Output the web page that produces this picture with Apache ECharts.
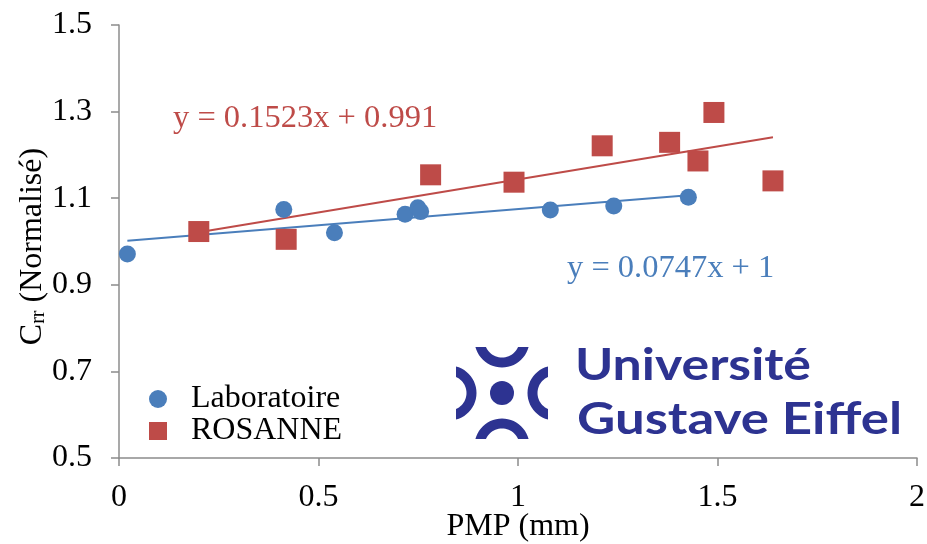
<!DOCTYPE html>
<html><head><meta charset="utf-8">
<script src="https://cdn.jsdelivr.net/npm/echarts@6/dist/echarts.min.js"></script>
<style>html,body{margin:0;padding:0;background:#fff}#c{width:927px;height:544px}</style>
</head><body><div id="c"></div>
<script>
// ---- data ----
const xTicks = [0, 0.5, 1, 1.5, 2];
const yTicks = [0.5, 0.7, 0.9, 1.1, 1.3, 1.5];
const seriesNames = ['Laboratoire', 'ROSANNE'];
const laboX = [0.021, 0.413, 0.540, 0.717, 0.749, 0.756, 1.081, 1.240, 1.427];
const laboY = [0.971, 1.074, 1.020, 1.063, 1.078, 1.069, 1.073, 1.082, 1.102];
const rosX  = [0.200, 0.419, 0.781, 0.990, 1.211, 1.380, 1.451, 1.491, 1.639];
const rosY  = [1.023, 1.005, 1.154, 1.137, 1.221, 1.229, 1.186, 1.298, 1.140];
const laboTrendX = [0.021, 1.427];
const laboTrendY = [1.0016, 1.1066];
const rosTrendX = [0.200, 1.639];
const rosTrendY = [1.0215, 1.2406];
const laboEq = 'y = 0.0747x + 1';
const rosEq = 'y = 0.1523x + 0.991';
const xTitle = 'PMP (mm)';
const logoLine1 = 'Université';
const logoLine2 = 'Gustave Eiffel';

// ---- styles ----
const blue = '#4A7EBB', red = '#BE4B48', axisGrey = '#8C8C8C', logoBlue = '#2D3391';
const serif = '"Liberation Serif","Times New Roman",serif';
const zip = (a, b) => a.map((v, i) => [v, b[i]]);
const step = a => Math.round((a[1] - a[0]) * 1000) / 1000;

const chart = echarts.init(document.getElementById('c'), null, {renderer: 'canvas'});

// logo pieces
const S = [502, 393], D = 53, cutD = 7, Ro = 27.5, Ri = 17.5;
function ringPiece(ux, uy) {
  const cx = S[0] - ux * D, cy = S[1] - uy * D;
  const phi = Math.atan2(uy, ux);
  const ao = Math.acos(cutD / Ro), ai = Math.acos(cutD / Ri);
  const pts = [];
  const n = 24;
  for (let k = 0; k <= n; k++) { const t = phi - ao + 2 * ao * k / n; pts.push([cx + Ro * Math.cos(t), cy + Ro * Math.sin(t)]); }
  for (let k = 0; k <= n; k++) { const t = phi + ai - 2 * ai * k / n; pts.push([cx + Ri * Math.cos(t), cy + Ri * Math.sin(t)]); }
  return {type: 'polygon', shape: {points: pts}, style: {fill: logoBlue}, silent: true};
}
const mctx = document.createElement('canvas').getContext('2d');
function scaleFor(str, font, w) { mctx.font = font; return w / mctx.measureText(str).width; }
const logoFont = 'bold 44px Lato';
const logoTexts = [
  {s: logoLine1, x: 575, y: 366, w: 236},
  {s: logoLine2, x: 577, y: 420, w: 325}
].map(o => ({
  type: 'text', x: o.x, y: o.y, scaleX: scaleFor(o.s, logoFont, o.w), silent: true,
  style: {text: o.s, x: 0, y: 0, fill: logoBlue, fontFamily: 'Lato', fontWeight: 'bold', fontSize: 44, align: 'left', verticalAlign: 'middle'}
}));

const option = {
  animation: false,
  backgroundColor: '#fff',
  grid: {left: 119, right: 10, top: 25, bottom: 86, containLabel: false, outerBoundsMode: 'none'},
  xAxis: {
    type: 'value', min: xTicks[0], max: xTicks[xTicks.length - 1], interval: step(xTicks),
    axisLine: {show: true, lineStyle: {color: axisGrey, width: 1.5}},
    axisTick: {show: true, length: 8, lineStyle: {color: axisGrey, width: 1.5}},
    splitLine: {show: false},
    axisLabel: {fontFamily: serif, fontSize: 32, color: '#000', margin: 24, formatter: v => String(+v.toFixed(2))},
    name: xTitle, nameLocation: 'middle', nameGap: 53, nameMoveOverlap: false,
    nameTextStyle: {fontFamily: serif, fontSize: 32, color: '#000'}
  },
  yAxis: {
    type: 'value', min: yTicks[0], max: yTicks[yTicks.length - 1], interval: step(yTicks),
    axisLine: {show: true, lineStyle: {color: axisGrey, width: 1.5}},
    axisTick: {show: true, length: 8, lineStyle: {color: axisGrey, width: 1.5}},
    splitLine: {show: false},
    axisLabel: {fontFamily: serif, fontSize: 32, color: '#000', margin: 27, formatter: v => v.toFixed(1)},
    name: '{a|C}{s|rr}{a| (Normalisé)}', nameLocation: 'middle', nameGap: 70, nameMoveOverlap: false,
    nameTextStyle: {
      color: '#000', fontFamily: serif, fontSize: 32, padding: [0, 10, 0, 0],
      rich: {
        a: {fontFamily: serif, fontSize: 32, lineHeight: 32, color: '#000'},
        s: {fontFamily: serif, fontSize: 20, lineHeight: 12, verticalAlign: 'bottom', color: '#000'}
      }
    }
  },
  legend: {
    data: [{name: seriesNames[0], icon: 'circle'}, {name: seriesNames[1], icon: 'rect'}],
    orient: 'vertical', left: 144, top: 378, itemWidth: 18, itemHeight: 18, itemGap: 0,
    textStyle: {fontFamily: serif, fontSize: 32, lineHeight: 32, color: '#000', padding: [0, 0, 0, 19]},
    selectedMode: false
  },
  series: [
    {name: 'trendLabo', type: 'line', data: zip(laboTrendX, laboTrendY), showSymbol: false, symbol: 'none',
     lineStyle: {color: blue, width: 2}, z: 1, silent: true},
    {name: 'trendRos', type: 'line', data: zip(rosTrendX, rosTrendY), showSymbol: false, symbol: 'none',
     lineStyle: {color: red, width: 2}, z: 1, silent: true},
    {name: seriesNames[0], type: 'scatter', data: zip(laboX, laboY), symbol: 'circle', symbolSize: 17,
     itemStyle: {color: blue, opacity: 1}, z: 3},
    {name: seriesNames[1], type: 'scatter', data: zip(rosX, rosY), symbol: 'rect', symbolSize: 21,
     itemStyle: {color: red, opacity: 1}, z: 3}
  ],
  graphic: [
    {type: 'text', x: 173, y: 118, silent: true,
     style: {text: rosEq, fill: red, fontFamily: serif, fontSize: 32.5, align: 'left', verticalAlign: 'middle'}},
    {type: 'text', x: 567, y: 268, silent: true,
     style: {text: laboEq, fill: blue, fontFamily: serif, fontSize: 32.5, align: 'left', verticalAlign: 'middle'}},
    ringPiece(0, 1), ringPiece(0, -1), ringPiece(1, 0), ringPiece(-1, 0),
    {type: 'circle', shape: {cx: S[0], cy: S[1], r: 12}, style: {fill: logoBlue}, silent: true},
    ...logoTexts
  ]
};
chart.setOption(option);
</script>
</body></html>
